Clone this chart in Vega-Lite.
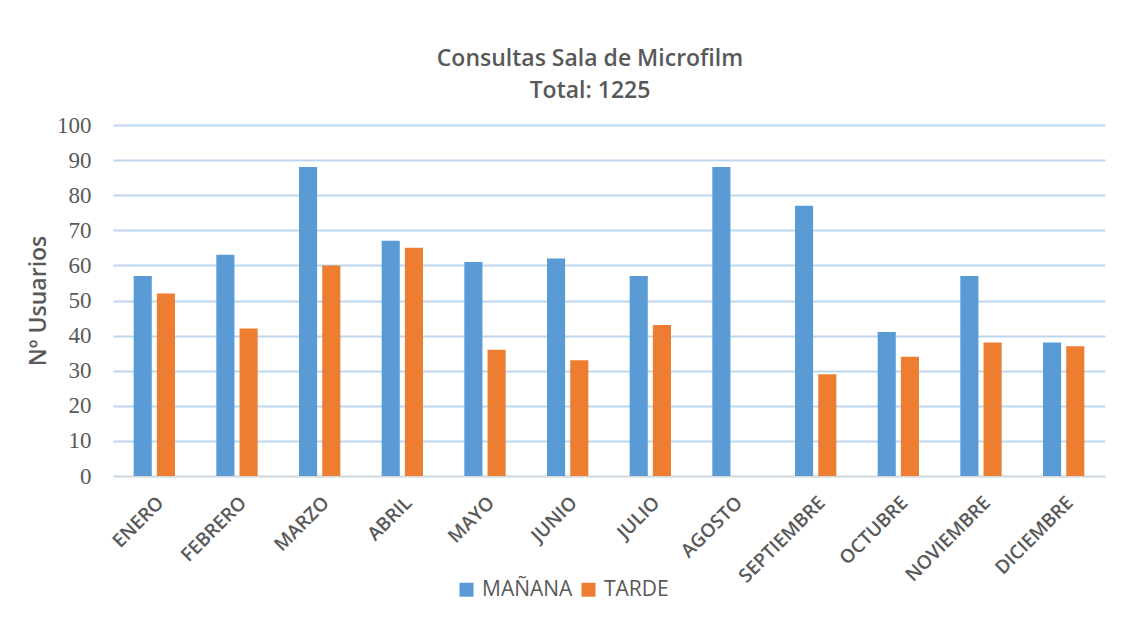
{
  "$schema": "https://vega.github.io/schema/vega-lite/v6.json",
  "autosize": "none",
  "width": 992,
  "height": 351,
  "padding": {"left": 113, "top": 125, "right": 28, "bottom": 163},
  "background": "white",
  "title": {
    "text": ["Consultas Sala de Microfilm", "Total: 1225"],
    "font": "Open Sans",
    "fontSize": 23,
    "fontWeight": 600,
    "color": "#595959",
    "lineHeight": 32,
    "anchor": "middle",
    "frame": "group",
    "dx": -19,
    "offset": 11
  },
  "data": {
    "values": [
      {"mes": "ENERO", "turno": "MAÑANA", "usuarios": 57},
      {"mes": "ENERO", "turno": "TARDE", "usuarios": 52},
      {"mes": "FEBRERO", "turno": "MAÑANA", "usuarios": 63},
      {"mes": "FEBRERO", "turno": "TARDE", "usuarios": 42},
      {"mes": "MARZO", "turno": "MAÑANA", "usuarios": 88},
      {"mes": "MARZO", "turno": "TARDE", "usuarios": 60},
      {"mes": "ABRIL", "turno": "MAÑANA", "usuarios": 67},
      {"mes": "ABRIL", "turno": "TARDE", "usuarios": 65},
      {"mes": "MAYO", "turno": "MAÑANA", "usuarios": 61},
      {"mes": "MAYO", "turno": "TARDE", "usuarios": 36},
      {"mes": "JUNIO", "turno": "MAÑANA", "usuarios": 62},
      {"mes": "JUNIO", "turno": "TARDE", "usuarios": 33},
      {"mes": "JULIO", "turno": "MAÑANA", "usuarios": 57},
      {"mes": "JULIO", "turno": "TARDE", "usuarios": 43},
      {"mes": "AGOSTO", "turno": "MAÑANA", "usuarios": 88},
      {"mes": "SEPTIEMBRE", "turno": "MAÑANA", "usuarios": 77},
      {"mes": "SEPTIEMBRE", "turno": "TARDE", "usuarios": 29},
      {"mes": "OCTUBRE", "turno": "MAÑANA", "usuarios": 41},
      {"mes": "OCTUBRE", "turno": "TARDE", "usuarios": 34},
      {"mes": "NOVIEMBRE", "turno": "MAÑANA", "usuarios": 57},
      {"mes": "NOVIEMBRE", "turno": "TARDE", "usuarios": 38},
      {"mes": "DICIEMBRE", "turno": "MAÑANA", "usuarios": 38},
      {"mes": "DICIEMBRE", "turno": "TARDE", "usuarios": 37}
    ]
  },
  "mark": {"type": "bar"},
  "encoding": {
    "x": {
      "field": "mes",
      "type": "nominal",
      "sort": null,
      "scale": {"paddingInner": 0.5, "paddingOuter": 0.25},
      "axis": {
        "title": null,
        "labelAngle": -45,
        "labelFont": "Open Sans",
        "labelFontSize": 19,
        "labelFontWeight": 600,
        "labelColor": "#595959",
        "labelPadding": 17,
        "ticks": false,
        "domainColor": "#d9d9d9",
        "domainWidth": 1.5,
        "grid": false
      }
    },
    "xOffset": {
      "field": "turno",
      "type": "nominal",
      "scale": {"paddingInner": 0.22, "domain": ["MAÑANA", "TARDE"]}
    },
    "y": {
      "field": "usuarios",
      "type": "quantitative",
      "scale": {"domain": [0, 100], "nice": false},
      "axis": {
        "title": "Nº Usuarios",
        "titleFont": "Open Sans",
        "titleFontSize": 23,
        "titleFontWeight": 600,
        "titleColor": "#595959",
        "titlePadding": 6,
        "values": [0, 10, 20, 30, 40, 50, 60, 70, 80, 90, 100],
        "labelFont": "Liberation Serif",
        "labelFontSize": 23,
        "labelColor": "#595959",
        "labelPadding": 22,
        "ticks": false,
        "domain": false,
        "grid": true,
        "gridColor": "#bdd7ee",
        "gridWidth": 2
      }
    },
    "color": {
      "field": "turno",
      "type": "nominal",
      "scale": {"domain": ["MAÑANA", "TARDE"], "range": ["#5b9bd5", "#ed7d31"]},
      "legend": {
        "title": null,
        "orient": "none",
        "direction": "horizontal",
        "legendX": 343,
        "legendY": 454,
        "symbolType": "square",
        "symbolSize": 196,
        "symbolStrokeWidth": 0,
        "symbolOpacity": 1,
        "labelFont": "Open Sans",
        "labelFontSize": 21,
        "labelColor": "#595959",
        "labelOffset": 5,
        "columnPadding": 5
      }
    }
  },
  "config": {
    "view": {"stroke": null}
  }
}
